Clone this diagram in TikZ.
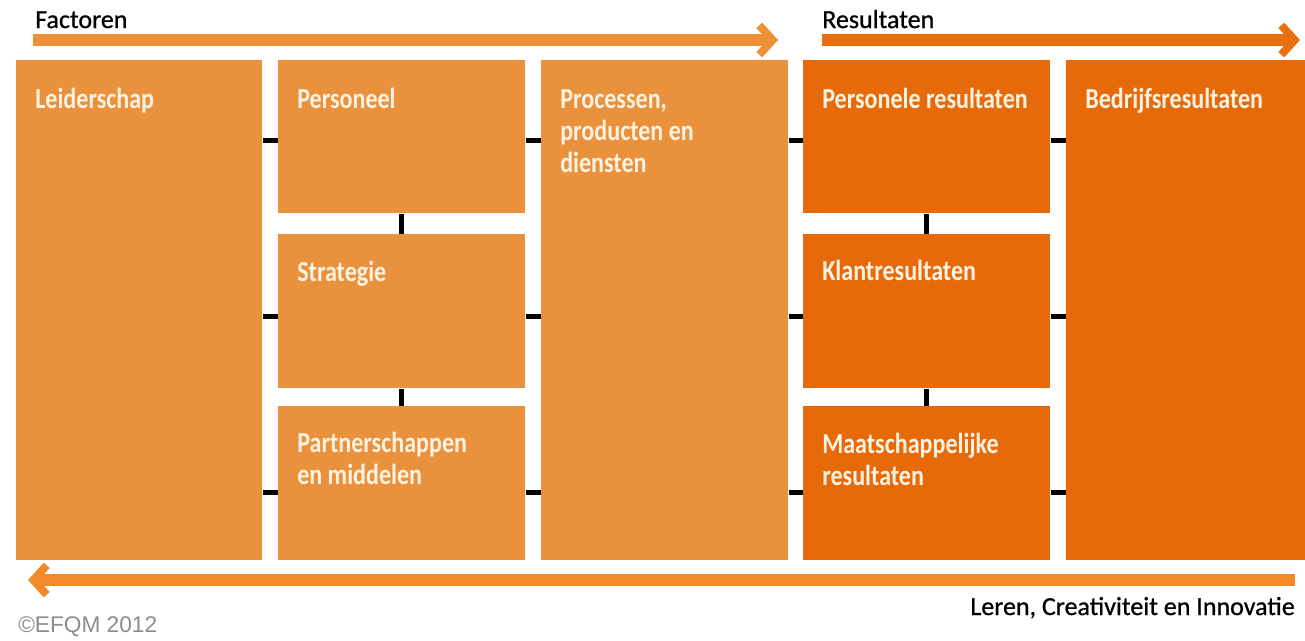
\documentclass[tikz,border=0pt]{standalone}
\usepackage{fontspec}
\setmainfont{Carlito}
\newfontfamily\boxfont[FakeStretch=0.83]{Carlito}
\newfontfamily\headfont[FakeBold=0.8]{Carlito}
\newfontfamily\notefont{Liberation Sans}
\usetikzlibrary{arrows.meta}
\definecolor{factorfill}{HTML}{EA913E}
\definecolor{resultfill}{HTML}{E6690A}
\definecolor{factorbar}{HTML}{EE9038}
\definecolor{resultbar}{HTML}{E8700E}
\definecolor{learnbar}{HTML}{F28A2A}
\definecolor{boxink}{HTML}{FFF2E0}
\definecolor{noteink}{HTML}{8C8C8C}
\tikzstyle{factor}=[rectangle, fill=factorfill, inner sep=0pt, anchor=north west]
\tikzstyle{result}=[rectangle, fill=resultfill, inner sep=0pt, anchor=north west]
\tikzstyle{boxtext}=[anchor=base west, inner sep=0pt, align=left, text=boxink, font=\boxfont\bfseries\fontsize{21.75pt}{24pt}\selectfont]
\tikzstyle{heading}=[anchor=base west, inner sep=0pt, font=\headfont\fontsize{19.5pt}{22pt}\selectfont]
\tikzstyle{link}=[line width=3.75pt, black]
\tikzstyle{flow}=[line width=9pt, -{Straight Barb[length=10pt, width=22pt, line width=6pt]}]

\begin{document}
\begin{tikzpicture}[x=0.75pt, y=-0.75pt]
    \useasboundingbox (0,0) rectangle (1305,640);
    % factoren
    \node[factor, minimum width=184.5pt, minimum height=375pt] (lead) at (16,60) {};
    \node[factor, minimum width=185.25pt, minimum height=114.75pt] (pers) at (278,60) {};
    \node[factor, minimum width=185.25pt, minimum height=115.5pt] (strat) at (278,234) {};
    \node[factor, minimum width=185.25pt, minimum height=115.5pt] (partn) at (278,406) {};
    \node[factor, minimum width=185.25pt, minimum height=375pt] (proc) at (541,60) {};
    % resultaten
    \node[result, minimum width=185.25pt, minimum height=114.75pt] (persres) at (803,60) {};
    \node[result, minimum width=185.25pt, minimum height=115.5pt] (klant) at (803,234) {};
    \node[result, minimum width=185.25pt, minimum height=115.5pt] (maats) at (803,406) {};
    \node[result, minimum width=179.25pt, minimum height=375pt] (bedr) at (1066,60) {};

    % base = baseline of the last line
    \node[boxtext] (t-lead) at (35,108) {Leiderschap};
    \node[boxtext] (t-pers) at (297,108) {Personeel};
    \node[boxtext] (t-strat) at (297,281) {Strategie};
    \node[boxtext] (t-partn) at (297,484) {Partnerschappen\\en middelen};
    \node[boxtext] (t-proc) at (560,172) {Processen,\\producten en\\diensten};
    \node[boxtext] (t-persres) at (822,108) {Personele resultaten};
    \node[boxtext] (t-klant) at (822,280) {Klantresultaten};
    \node[boxtext] (t-maats) at (822,485) {Maatschappelijke\\resultaten};
    \node[boxtext] (t-bedr) at (1085,108) {Bedrijfsresultaten};

    \coordinate (row1) at (0,140);
    \coordinate (row2) at (0,316);
    \coordinate (row3) at (0,492);
    \draw[link]
        (lead.east |- row1) -- (pers.west |- row1)
        (lead.east |- row2) -- (strat.west |- row2)
        (lead.east |- row3) -- (partn.west |- row3)
        (pers.east |- row1) -- (proc.west |- row1)
        (strat.east |- row2) -- (proc.west |- row2)
        (partn.east |- row3) -- (proc.west |- row3)
        (proc.east |- row1) -- (persres.west |- row1)
        (proc.east |- row2) -- (klant.west |- row2)
        (proc.east |- row3) -- (maats.west |- row3)
        (persres.east |- row1) -- (bedr.west |- row1)
        (klant.east |- row2) -- (bedr.west |- row2)
        (maats.east |- row3) -- (bedr.west |- row3)
        (pers.south) -- (strat.north)
        (strat.south) -- (partn.north)
        (persres.south) -- (klant.north)
        (klant.south) -- (maats.north)
    ;

    % pijlen
    \coordinate (f0) at (33,40);
    \coordinate (f1) at (778,40);
    \coordinate (r0) at (822,40);
    \coordinate (r1) at (1300,40);
    \coordinate (l0) at (1295,580);
    \coordinate (l1) at (28,580);
    \draw[flow, factorbar] (f0) -- (f1);
    \draw[flow, resultbar] (r0) -- (r1);
    \draw[flow, learnbar] (l0) -- (l1);

    \node[heading] (factoren) at (35,28) {Factoren};
    \node[heading] (resultaten) at (822,28) {Resultaten};
    \node[heading, anchor=base east] (leren) at (1295,615) {Leren, Creativiteit en Innovatie};
    \node[anchor=base west, inner sep=0pt, text=noteink, font=\notefont\fontsize{17pt}{20pt}\selectfont] (efqm) at (18,632) {©EFQM 2012};
\end{tikzpicture}
\end{document}
